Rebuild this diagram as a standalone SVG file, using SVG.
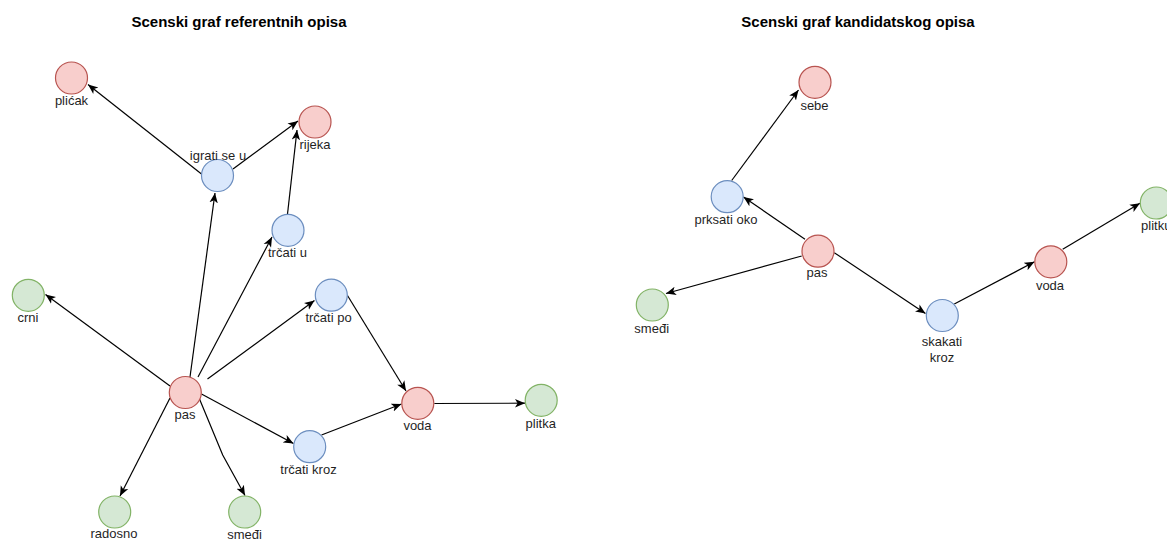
<svg xmlns="http://www.w3.org/2000/svg" width="1167" height="540" viewBox="0 0 1167 540">
  <style>
    .title { font-family: "Liberation Sans", Arial, sans-serif; font-size: 15px; font-weight: bold; fill: #000; text-anchor: middle; }
    .lbl { font-family: "Liberation Sans", Arial, sans-serif; font-size: 13px; fill: #1f1f1f; text-anchor: middle; }
    .red { fill: #f8cecc; stroke: #b85450; stroke-width: 1.2; }
    .blue { fill: #dae8fc; stroke: #6c8ebf; stroke-width: 1.2; }
    .green { fill: #d5e8d4; stroke: #82b366; stroke-width: 1.2; }
    .edge { fill: none; stroke: #000; stroke-width: 1.2; marker-end: url(#arrow); }
  </style>
  <defs>
    <marker id="arrow" viewBox="0 0 10 10" refX="10" refY="5" markerWidth="10" markerHeight="10" markerUnits="userSpaceOnUse" orient="auto">
      <path d="M0,0.8 L10,5 L0,9.2 L2.6,5 z" fill="#000"/>
    </marker>
  </defs>
  <rect width="1167" height="540" fill="#fff"/>

  <text class="title" x="239" y="27">Scenski graf referentnih opisa</text>
  <text class="title" x="858" y="27">Scenski graf kandidatskog opisa</text>

  <!-- connectors -->
  <g id="edges">
    <!-- reference graph -->
    <path class="edge" d="M201.5,174 L88,84.5"/>
    <path class="edge" d="M233,169 L298,121"/>
    <path class="edge" d="M287.5,214 L297,130"/>
    <path class="edge" d="M190,377 L215,193"/>
    <path class="edge" d="M198,377 L272,237"/>
    <path class="edge" d="M207.5,379 L314.5,300.5"/>
    <path class="edge" d="M170,386 L45.5,294.5"/>
    <path class="edge" d="M170,398 L120,496"/>
    <path class="edge" d="M199.5,399 L222.7,455 L245,495.5"/>
    <path class="edge" d="M201.5,394 L293.5,443.5"/>
    <path class="edge" d="M321.5,435 L401.5,404"/>
    <path class="edge" d="M347.5,295.5 L406,391"/>
    <path class="edge" d="M434.3,403.5 L525,403.2"/>
    <!-- candidate graph -->
    <path class="edge" d="M731.7,180.5 L798.5,90"/>
    <path class="edge" d="M805,239.3 L743.5,197"/>
    <path class="edge" d="M801.7,256 L666,293.5"/>
    <path class="edge" d="M834.3,252.7 L925.5,313.5"/>
    <path class="edge" d="M954.3,304 L1034.5,261.8"/>
    <path class="edge" d="M1062.7,249.3 L1140,203.3"/>
  </g>

  <!-- reference graph nodes -->
  <g id="ref-plicak"><circle class="red" cx="71.5" cy="78" r="16"/><text class="lbl" x="71.5" y="105">plićak</text></g>
  <g id="ref-rijeka"><circle class="red" cx="315" cy="122" r="16"/><text class="lbl" x="315" y="148.5">rijeka</text></g>
  <g id="ref-igrati-se-u"><circle class="blue" cx="217.5" cy="175.5" r="16"/><text class="lbl" x="218" y="159.5">igrati se u</text></g>
  <g id="ref-trcati-u"><circle class="blue" cx="288" cy="230.3" r="16"/><text class="lbl" x="287.5" y="257">trčati u</text></g>
  <g id="ref-crni"><circle class="green" cx="28.3" cy="295.3" r="16"/><text class="lbl" x="28" y="322">crni</text></g>
  <g id="ref-trcati-po"><circle class="blue" cx="331.3" cy="295.2" r="16"/><text class="lbl" x="328.5" y="322">trčati po</text></g>
  <g id="ref-pas"><circle class="red" cx="185.3" cy="392.5" r="16"/><text class="lbl" x="185" y="418.5">pas</text></g>
  <g id="ref-voda"><circle class="red" cx="417.8" cy="403.3" r="16"/><text class="lbl" x="417.5" y="430">voda</text></g>
  <g id="ref-plitka"><circle class="green" cx="541.2" cy="400.3" r="16"/><text class="lbl" x="540.7" y="427.5">plitka</text></g>
  <g id="ref-trcati-kroz"><circle class="blue" cx="309.7" cy="446.7" r="16"/><text class="lbl" x="308.5" y="473.5">trčati kroz</text></g>
  <g id="ref-radosno"><circle class="green" cx="114.7" cy="512" r="16"/><text class="lbl" x="114" y="538">radosno</text></g>
  <g id="ref-smedi"><circle class="green" cx="244.7" cy="512" r="16"/><text class="lbl" x="244.5" y="538.5">smeđi</text></g>

  <!-- candidate graph nodes -->
  <g id="cand-sebe"><circle class="red" cx="815" cy="82.3" r="16"/><text class="lbl" x="814.5" y="110">sebe</text></g>
  <g id="cand-prksati-oko"><circle class="blue" cx="727.2" cy="196.7" r="16"/><text class="lbl" x="726" y="223.5">prksati oko</text></g>
  <g id="cand-pas"><circle class="red" cx="818" cy="251.2" r="16"/><text class="lbl" x="817" y="276.5">pas</text></g>
  <g id="cand-smedi"><circle class="green" cx="652.3" cy="305" r="16"/><text class="lbl" x="651.7" y="332.5">smeđi</text></g>
  <g id="cand-skakati-kroz"><circle class="blue" cx="942.3" cy="315.5" r="16"/><text class="lbl" x="942" y="346.3">skakati</text><text class="lbl" x="942" y="362">kroz</text></g>
  <g id="cand-voda"><circle class="red" cx="1050.8" cy="261.8" r="16"/><text class="lbl" x="1050" y="289.5">voda</text></g>
  <g id="cand-plitku"><circle class="green" cx="1156.3" cy="203" r="16"/><text class="lbl" x="1156.3" y="230">plitku</text></g>
</svg>
